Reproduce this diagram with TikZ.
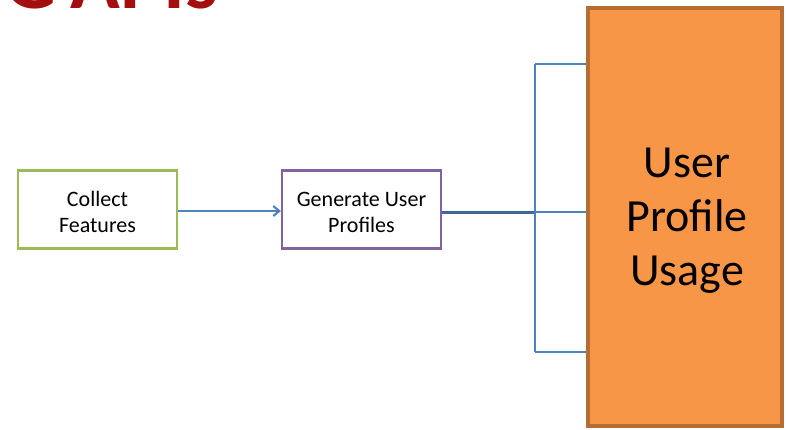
\documentclass[tikz,border=0pt]{standalone}
\usepackage{fontspec}
\setmainfont{Carlito}
\usetikzlibrary{arrows.meta}
\definecolor{cgreen}{HTML}{9BBB59}
\definecolor{cpurple}{HTML}{8064A2}
\definecolor{cblue}{HTML}{4F81BD}
\definecolor{corange}{HTML}{F79646}
\definecolor{cborder}{HTML}{B66D31}
\definecolor{cred}{HTML}{A50E0E}
\tikzset{
  smallbox/.style={draw, line width=2.2pt, fill=white, minimum width=159pt, minimum height=78pt,
    inner sep=0pt},
  boxtext/.style={align=center, inner sep=0pt, font=\fontsize{22}{26}\selectfont},
  link/.style={draw=cblue, line width=2.1pt},
  bigbox/.style={draw=cborder, fill=corange, line width=4pt, minimum width=194pt, minimum height=418pt,
    inner sep=0pt},
  bigtext/.style={align=center, inner sep=0pt, font=\fontsize{46}{54}\selectfont}
}
\begin{document}
\begin{tikzpicture}[x=1pt,y=-1pt]
\useasboundingbox (0,0) rectangle (788,429);
\clip (0,0) rectangle (788,429);
\fill[white] (0,0) rectangle (788,429);
\node[anchor=base west, text=cred, font=\fontsize{82}{82}\selectfont\bfseries, inner sep=0pt] (title) at (4,8) {G\hspace{14pt}APIs};
\node[smallbox, draw=cgreen] (collect) at (97.5,209.5) {};
\node[boxtext] (collecttext) at (97.5,212) {Collect\\Features};
\node[smallbox, draw=cpurple] (generate) at (361.5,209.5) {};
\node[boxtext] (generatetext) at (361.5,212) {Generate User\\Profiles};
\node[bigbox] (usage) at (685,217) {};
\node[bigtext] (usagetext) at (687,221) {User\\Profile\\Usage};
\coordinate (j) at (535,212);
\coordinate (jt) at (535,64);
\coordinate (jb) at (535,352);
\draw[link, -{Straight Barb[length=6pt,width=10pt]}] (collect.east |- 0,211) -- (generate.west |- 0,211);
\draw[link, line width=3pt, draw=cblue!80!black] (generate.east |- j) -- (j);
\draw[link] (jt) -- (jb);
\draw[link] (jt) -- (usage.west |- jt);
\draw[link] (j) -- (usage.west |- j);
\draw[link] (jb) -- (usage.west |- jb);
\end{tikzpicture}
\end{document}
